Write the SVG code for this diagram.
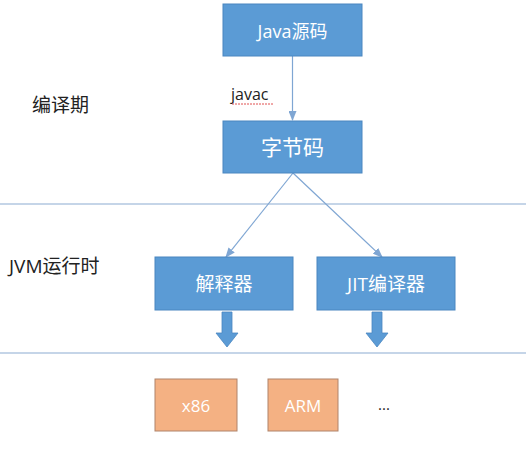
<svg xmlns="http://www.w3.org/2000/svg" width="526" height="452" viewBox="0 0 526 452">
<defs>
<style>
.blue{fill:#5b9bd5;stroke:#4a86c0;stroke-width:1}
.orange{fill:#f4b183;stroke:#b0836a;stroke-width:1}
.wt{fill:#ffffff;font-family:"Open Sans","Noto Sans CJK SC",sans-serif;text-anchor:middle;dominant-baseline:central}
.lbl{fill:#222;font-family:"Open Sans","Noto Sans CJK SC",sans-serif;font-size:19px}
.sep{stroke:#c5d5e8;stroke-width:2}
.conn{stroke:#7fa6d3;stroke-width:1.2;fill:none}
</style>
<marker id="ah" markerWidth="10" markerHeight="8" refX="9" refY="4" orient="auto" markerUnits="userSpaceOnUse">
<path d="M0,0 L10,4 L0,8 z" fill="#7fa6d3"/>
</marker>
</defs>
<rect width="526" height="452" fill="#ffffff"/>
<line class="sep" x1="0" y1="204" x2="526" y2="204"/>
<line class="sep" x1="0" y1="353" x2="526" y2="353"/>
<text class="lbl" x="32" y="112">编译期</text>
<text class="lbl" x="9" y="273">JVM运行时</text>
<g id="connectors">
<line class="conn" x1="292.5" y1="56" x2="292.5" y2="120" marker-end="url(#ah)"/>
<line class="conn" x1="293" y1="173" x2="226" y2="257" marker-end="url(#ah)"/>
<line class="conn" x1="293" y1="173" x2="382" y2="257" marker-end="url(#ah)"/>
<path d="M222,312 H232 V333 H238 L227,347 L216,333 H222 Z" fill="#5b9bd5" stroke="#4a86c0" stroke-width="0.8"/>
<path d="M372,312 H382 V333 H388 L377,347 L366,333 H372 Z" fill="#5b9bd5" stroke="#4a86c0" stroke-width="0.8"/>
<text x="231" y="100" style="font-family:'Open Sans',sans-serif;font-size:16px;fill:#222">javac</text>
<line x1="232" y1="104" x2="273" y2="104" stroke="#e05050" stroke-width="1" stroke-dasharray="2,1"/>
</g>
<g id="java">
<rect class="blue" x="223" y="4" width="139" height="52"/>
<text class="wt" x="292.5" y="31" font-size="18">Java源码</text>
</g>
<g id="bytecode">
<rect class="blue" x="223" y="121" width="139" height="52"/>
<text class="wt" x="292.5" y="147" font-size="21">字节码</text>
</g>
<g id="interp">
<rect class="blue" x="155" y="257" width="138" height="53"/>
<text class="wt" x="224" y="284" font-size="19">解释器</text>
</g>
<g id="jit">
<rect class="blue" x="317" y="257" width="138" height="53"/>
<text class="wt" x="386" y="284" font-size="19">JIT编译器</text>
</g>
<g id="x86">
<rect class="orange" x="155" y="379" width="82" height="52"/>
<text class="wt" x="196" y="405" font-size="17">x86</text>
</g>
<g id="arm">
<rect class="orange" x="268" y="379" width="70" height="52"/>
<text class="wt" x="303" y="405" font-size="17">ARM</text>
</g>
<g id="more">
<text x="378" y="410" style="font-family:'Open Sans',sans-serif;font-size:15px;fill:#222">...</text>
</g>
</svg>
